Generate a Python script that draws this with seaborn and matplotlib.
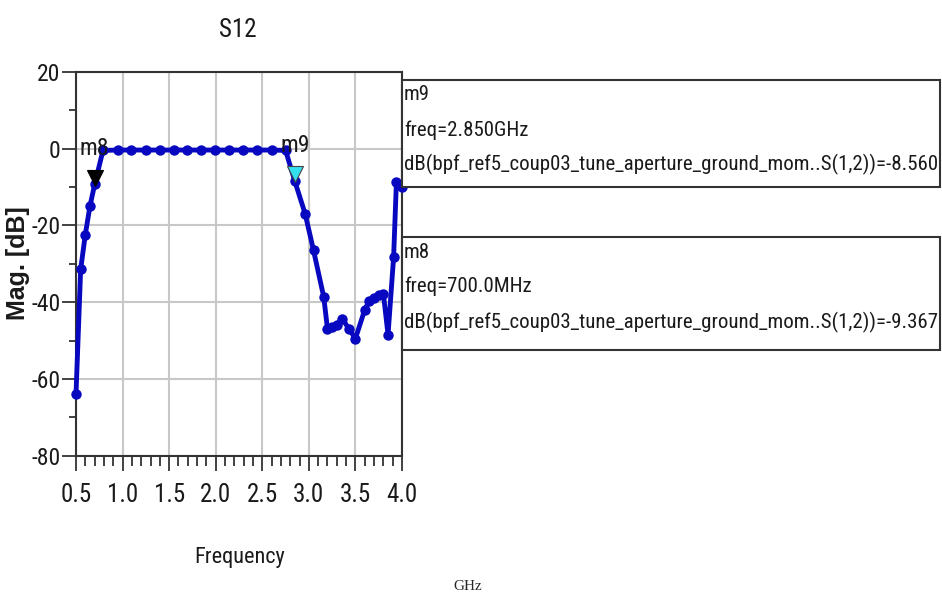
import matplotlib
matplotlib.use("Agg")
import matplotlib.pyplot as plt
import matplotlib.transforms as mtransforms
from matplotlib import font_manager as fm
from matplotlib.patches import Rectangle
from matplotlib.ticker import MultipleLocator
import seaborn as sns
import pandas as pd

# ---- data ----
freq_ghz = [0.50, 0.55, 0.60, 0.65, 0.70, 0.79, 0.95, 1.09, 1.25, 1.40, 1.55,
            1.69, 1.84, 1.99, 2.14, 2.29, 2.44, 2.60, 2.75, 2.85, 2.96, 3.05,
            3.16, 3.20, 3.25, 3.30, 3.36, 3.43, 3.50, 3.60, 3.65, 3.70, 3.75,
            3.80, 3.85, 3.91, 3.94, 4.00]
s12_db = [-64.0, -31.5, -22.4, -15.0, -9.37, -0.5, -0.4, -0.4, -0.4, -0.4, -0.4,
          -0.4, -0.4, -0.4, -0.4, -0.4, -0.4, -0.4, -0.5, -8.56, -17.0, -26.5,
          -38.7, -47.0, -46.5, -46.0, -44.3, -47.0, -49.5, -42.0, -39.6, -39.0,
          -38.2, -37.8, -48.5, -28.3, -8.7, -10.0]

marker_names = ["m8", "m9"]
marker_freq = [0.70, 2.85]
marker_db = [-9.367, -8.560]
marker_colors = ["black", "#33e0f0"]
marker_texts = [
    ["m9", "freq=2.850GHz", "dB(bpf_ref5_coup03_tune_aperture_ground_mom..S(1,2))=-8.560"],
    ["m8", "freq=700.0MHz", "dB(bpf_ref5_coup03_tune_aperture_ground_mom..S(1,2))=-9.367"],
]
x_ticks = [0.5, 1.0, 1.5, 2.0, 2.5, 3.0, 3.5, 4.0]
y_ticks = [-80, -60, -40, -20, 0, 20]

sns.set_style("white")

# choose a narrow sans font if one is installed
_entries = fm.fontManager.ttflist
_names = {f.name for f in _entries}
NARROW = None
for cand in ["Liberation Sans Narrow", "Arial Narrow", "Roboto Condensed",
             "Open Sans Condensed", "Noto Sans Condensed"]:
    if cand in _names:
        NARROW = cand
        break
STRETCH = "normal"
if NARROW is None:
    cond = [f for f in _entries if f.name == "DejaVu Sans" and str(f.stretch) in ("condensed", "semi-condensed")]
    NARROW = "DejaVu Sans"
    STRETCH = "condensed" if cond else "normal"
plt.rcParams["font.family"] = [NARROW, "DejaVu Sans"]
plt.rcParams["font.stretch"] = STRETCH

W, H = 942, 593
fig = plt.figure(figsize=(W / 100, H / 100), dpi=100)
ax = fig.add_axes([76 / W, 1 - 455.7 / H, 326 / W, (455.7 - 71.7) / H])

df = pd.DataFrame({"freq": freq_ghz, "db": s12_db})
sns.lineplot(data=df, x="freq", y="db", ax=ax, color="#0808c0", linewidth=3.5,
             marker="o", markersize=7.5, markeredgewidth=0, sort=False, zorder=3,
             clip_on=False)

ax.set_xlim(0.5, 4.0)
ax.set_ylim(-80, 20)
ax.set_xticks(x_ticks)
ax.set_xticklabels([f"{v:.1f}" for v in x_ticks])
ax.set_yticks(y_ticks)
ax.set_yticklabels([f"{v}" for v in y_ticks])
ax.xaxis.set_minor_locator(MultipleLocator(0.1))
ax.yaxis.set_minor_locator(MultipleLocator(10))
ax.tick_params(axis="x", which="major", length=11, width=1.3, color="#333333",
               labelsize=18, pad=9, direction="out", bottom=True, labelcolor="#1a1a1a")
ax.tick_params(axis="x", which="minor", length=7, width=1.3, color="#333333",
               direction="out", bottom=True)
ax.tick_params(axis="y", which="major", length=10, width=1.3, color="#333333",
               labelsize=17, pad=1, direction="out", left=True, labelcolor="#1a1a1a")
ax.tick_params(axis="y", which="minor", length=5, width=1.3, color="#333333",
               direction="out", left=True)
ax.grid(True, which="major", color="#c8c8c8", linewidth=1.5)
ax.set_axisbelow(True)
for s in ["left", "bottom", "top", "right"]:
    ax.spines[s].set_visible(True)
    ax.spines[s].set_color("#333333")
    ax.spines[s].set_linewidth(1.5)
ax.set_xlabel("")
ax.set_ylabel("")

# marker triangles and labels
for name, fx, fy, col in zip(marker_names, marker_freq, marker_db, marker_colors):
    tr = mtransforms.offset_copy(ax.transData, fig=fig, x=0, y=5, units="points")
    ax.plot([fx], [fy], marker="v", color=col, markersize=11,
            markeredgecolor="#444444" if col != "black" else "black",
            markeredgewidth=0.8, transform=tr, zorder=4, clip_on=False)
    ax.text(fx, fy + 9.4, name, transform=ax.transData, fontsize=17,
            ha="center", va="center", zorder=5, color="#1a1a1a")

# titles
fig.text(238 / W, 1 - 30 / H, "S12", ha="center", va="center", fontsize=18, color="#1a1a1a")
fig.text(240 / W, 1 - 557 / H, "Frequency", ha="center", va="center", fontsize=16, color="#1a1a1a")
fig.text(18 / W, 1 - 263 / H, "Mag. [dB]", ha="center", va="center", fontsize=18,
         fontweight="bold", rotation=90, family=["Liberation Sans", "DejaVu Sans"],
         stretch="normal", color="#1a1a1a")
fig.text(468 / W, 1 - 586 / H, "GHz", ha="center", va="center", fontsize=11,
         family=["Liberation Serif", "DejaVu Serif"], stretch="normal")

# annotation boxes
fig.canvas.draw()
renderer = fig.canvas.get_renderer()
boxes = [(80, 187, [94, 130, 164]), (237, 350, [252, 286, 322])]
for (top, bot, ys), lines in zip(boxes, marker_texts):
    rect = Rectangle((402 / W, 1 - bot / H), (940 - 402) / W, (bot - top) / H,
                     transform=fig.transFigure, facecolor="white",
                     edgecolor="#333333", linewidth=1.5, zorder=6)
    fig.add_artist(rect)
    texts = []
    for yy, t in zip(ys, lines):
        texts.append(fig.text(404 / W, 1 - yy / H, t, ha="left", va="center",
                              fontsize=20, zorder=7, color="#1a1a1a"))
    # shrink the longest line so it fits the 534 px box width
    wmax = max(t.get_window_extent(renderer).width for t in texts)
    if wmax > 533:
        fs = 20 * 533 / wmax
        for t in texts:
            t.set_fontsize(fs)

fig.savefig("out.png", dpi=100)
